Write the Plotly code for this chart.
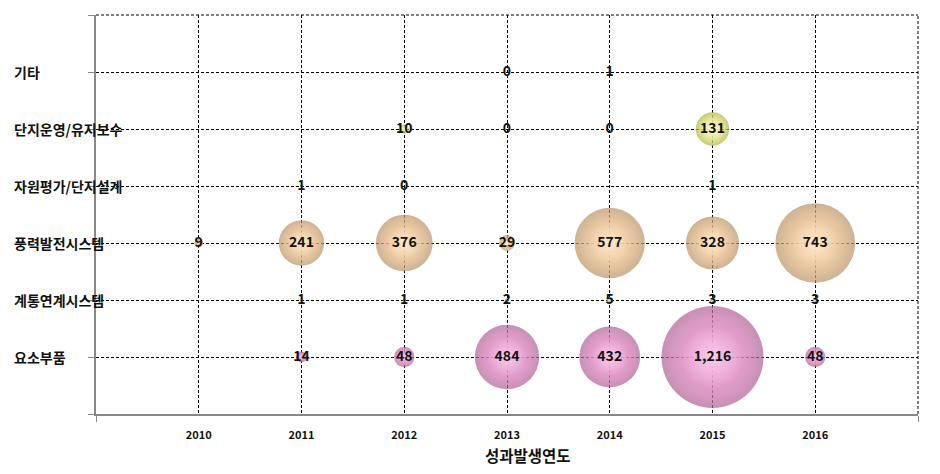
import plotly.graph_objects as go

years = [2010, 2011, 2012, 2013, 2014, 2015, 2016]
categories = ["요소부품", "계통연계시스템", "풍력발전시스템", "자원평가/단지설계", "단지운영/유지보수", "기타"]

# values per category (None = no point)
v_yoso = [None, 14, 48, 484, 432, 1216, 48]
v_gyetong = [None, 1, 1, 2, 5, 3, 3]
v_pungryeok = [9, 241, 376, 29, 577, 328, 743]
v_jawon = [None, 1, 0, None, None, 1, None]
v_danji = [None, None, 10, 0, 0, 131, None]
v_gita = [None, None, None, 0, 1, None, None]

series_values = [v_yoso, v_gyetong, v_pungryeok, v_jawon, v_danji, v_gita]
rim_colors = [(176, 96, 150), (130, 170, 140), (186, 146, 100), (40, 160, 160), (180, 180, 70), (120, 120, 184)]
mid_colors = [(236, 150, 208), (198, 228, 202), (244, 204, 158), (100, 214, 214), (240, 240, 150), (184, 184, 232)]
hi_colors = [(253, 226, 245), (242, 250, 242), (255, 242, 222), (210, 255, 255), (255, 255, 228), (238, 238, 252)]


def rgba(c, a):
    return f"rgba({c[0]},{c[1]},{c[2]},{a})"


max_val = 1216
max_diam = 102
sizeref = 2.0 * max_val / max_diam ** 2
layers = [  # (diameter ratio, edge colour, edge alpha, centre colour)
    (1.0, "rim", 1, "mid"),
    (0.96, "mid", 0, "mid"),
    (0.88, "mid", 0, "mid"),
    (0.62, "hi", 0, "hi"),
]

FONT = "Noto Sans CJK KR, sans-serif"

fig = go.Figure()
for i, (cat, vals) in enumerate(zip(categories, series_values)):
    xs, ys, ss, ts = [], [], [], []
    for yr, v in zip(years, vals):
        if v is None:
            continue
        xs.append(yr)
        ys.append(i + 1)
        ss.append(v)
        ts.append(f"{v:,}")
    pal = {"rim": rim_colors[i], "mid": mid_colors[i], "hi": hi_colors[i]}
    for k, (ratio, edge_src, edge_a, ctr_src) in enumerate(layers):
        last = k == len(layers) - 1
        fig.add_trace(go.Scatter(
            x=xs, y=ys, mode="markers+text" if last else "markers",
            text=ts if last else None,
            textposition="middle center",
            textfont=dict(family=FONT, size=14, color="#111111", weight="bold"),
            marker=dict(size=ss, sizemode="area", sizeref=sizeref / ratio ** 2, sizemin=0,
                        color=rgba(pal[edge_src], edge_a), line=dict(width=0),
                        gradient=dict(type="radial", color=rgba(pal[ctr_src], 1))),
            name=cat, showlegend=False, cliponaxis=False,
            hoverinfo="x+y+text" if last else "skip",
        ))

fig.update_xaxes(
    range=[2009, 2017], tickvals=years, ticktext=[str(y) for y in years],
    showgrid=True, gridcolor="#000000", griddash="3px,2px", gridwidth=1,
    showline=True, linecolor="#888888", linewidth=1.5, ticks="",
    tickfont=dict(family=FONT, size=11, color="#111111", weight="bold"),
    ticklabelstandoff=10, zeroline=False,
    minor=dict(tickvals=[2009, 2017], ticks="outside", ticklen=6, tickcolor="#888888",
               showgrid=False),
)
fig.update_yaxes(
    range=[0, 7], tickvals=list(range(8)), ticktext=[""] * 8,
    showgrid=True, gridcolor="#000000", griddash="3px,2px", gridwidth=1,
    showline=True, linecolor="#888888", linewidth=1.5,
    ticks="outside", ticklen=6, tickcolor="#888888", zeroline=False,
)

# dashed top and right borders of the plot area
border = dict(color="#000000", width=1, dash="3px,2px")
fig.add_shape(type="line", xref="paper", yref="paper", x0=0, x1=1, y0=1, y1=1, line=border, layer="below")
fig.add_shape(type="line", xref="paper", yref="paper", x0=1, x1=1, y0=0, y1=1, line=border, layer="below")

plot_w = 940 - 96 - 22
annotations = []
for i, cat in enumerate(categories):
    annotations.append(dict(
        x=(12 - 96) / plot_w, xref="paper", xanchor="left",
        y=i + 1, yref="y", yanchor="middle", text=cat, showarrow=False,
        font=dict(family=FONT, size=14, color="#111111", weight="bold"),
    ))
annotations.append(dict(
    x=(528 - 96) / plot_w, xref="paper", xanchor="center",
    y=-(455 - 414) / (414 - 15), yref="paper", yanchor="middle",
    text="성과발생연도", showarrow=False,
    font=dict(family=FONT, size=15.5, color="#111111", weight="bold"),
))

fig.update_layout(
    width=940, height=474,
    margin=dict(l=96, r=22, t=15, b=60),
    plot_bgcolor="white", paper_bgcolor="white",
    annotations=annotations,
)

fig.write_html("out.html")
